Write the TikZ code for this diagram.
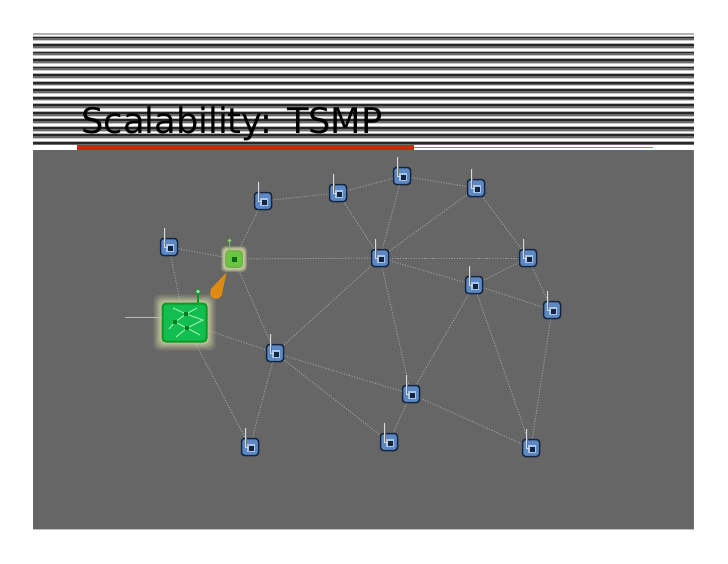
\documentclass[tikz,border=0pt]{standalone}
\usepackage{fontspec}
\setmainfont{DejaVu Sans}
\usetikzlibrary{backgrounds}
\definecolor{panelgray}{HTML}{666666}
\definecolor{nodeblue}{HTML}{5C88C4}
\definecolor{navy}{HTML}{14263F}
\definecolor{redbar}{HTML}{C9290F}
\definecolor{halo}{HTML}{C9CDA0}
\definecolor{routergreen}{HTML}{12BE50}
\definecolor{routeredge}{HTML}{0A9C22}
\definecolor{leafgreen}{HTML}{6CC443}
\definecolor{wedge}{HTML}{DF8A12}
\definecolor{netline}{HTML}{9AF0B0}
\definecolor{linkgray}{HTML}{9A9A9A}
\definecolor{paleblue}{HTML}{A9C4E6}
\definecolor{aerialgray}{HTML}{D4DAE2}
\tikzset{
  x=1pt,y=-1pt,
  bluebox/.style={draw=navy,line width=1.5pt,fill=nodeblue,rounded corners=3pt,minimum size=17pt,inner sep=0pt},
  greenbox/.style={draw=leafgreen!85!black,line width=.6pt,fill=leafgreen,rounded corners=3pt,minimum size=16.5pt,inner sep=0pt},
  routerbox/.style={draw=routeredge,line width=2pt,fill=routergreen,rounded corners=3.5pt,minimum width=44pt,minimum height=38pt,inner sep=0pt},
  link/.style={draw=linkgray,line width=1pt,dash pattern=on 1.2pt off 1.5pt},
  aerial/.style={draw=aerialgray,line width=1.1pt},
  netwire/.style={draw=netline,line width=.95pt},
}
\newcommand{\bluenode}[3]{%
  \node[bluebox] (#1) at (#2,#3) {};
  \fill[paleblue] ([shift={(-2.8,-2.8)}]#1.center) rectangle ([shift={(4.6,4.6)}]#1.center);
  \draw[line width=2pt,draw=black!55] ([shift={(-4.3,-19)}]#1.center) -- ([shift={(-4.3,.6)}]#1.center);
  \draw[aerial] ([shift={(-4.3,-19)}]#1.center) -- ([shift={(-4.3,.8)}]#1.center) -- ([shift={(1,.8)}]#1.center);
  \fill[navy] ([shift={(-1,-1)}]#1.center) rectangle ([shift={(3.6,3.6)}]#1.center);
}
\begin{document}
\begin{tikzpicture}
\useasboundingbox (0,0) rectangle (728,563);
% --- nodes
\bluenode{a}{263}{201}
\bluenode{b}{338}{193}
\bluenode{c}{402}{176}
\bluenode{d}{476}{188}
\bluenode{e}{169}{247}
\bluenode{f}{380}{258}
\bluenode{h}{528}{258}
\bluenode{i}{474}{285}
\bluenode{j}{552}{310}
\bluenode{k}{275}{353}
\bluenode{l}{411}{394}
\bluenode{m}{250}{447}
\bluenode{n}{389}{442}
\bluenode{o}{531}{448}
% green leaf
\foreach \s/\o in {26/.2,25/.2,24/.25,23/.3,22/.4,21/.5}
  \fill[halo,opacity=\o,rounded corners=4pt] (234-\s/2,259-\s/2) rectangle (234+\s/2,259+\s/2);
\node[greenbox] (g) at (234,259) {};
\draw[leafgreen,line width=1pt] (229.5,241) -- (229.5,259) -- (234,259);
\filldraw[draw=leafgreen,fill=white!40!leafgreen,line width=.6pt] (229.5,240.5) circle (1.6);
\fill[routeredge!70!black] (232,256.5) rectangle (237,261.5);
% router
\foreach \s/\o in {9/.08,8/.1,7/.12,6/.15,5/.18,4/.22,3/.3,2/.4}
  \fill[halo,opacity=\o,rounded corners=6pt] (184.5-22.5-\s,322.5-19.5-\s) rectangle (184.5+22.5+\s,322.5+19.5+\s);
\node[routerbox] (r) at (184.5,322.5) {};
\coordinate (rant) at (198,294);
\draw[routeredge,line width=1.2pt] (r.north -| rant) -- (rant);
\filldraw[draw=routeredge,fill=netline,line width=.8pt] (198,291.5) circle (2.2);
\draw[netwire] (173,308) -- (186,314) -- (175,322) -- (169,329);
\draw[netwire] (186,314) -- (197,308);
\draw[netwire] (186,314) -- (203,320) -- (187,328) -- (176,337);
\draw[netwire] (175,322) -- (187,328) -- (200,335);
\fill[routeredge!80!black] (184.3,312.3) rectangle (187.7,315.7);
\fill[routeredge!80!black] (173.3,320.3) rectangle (176.7,323.7);
\fill[routeredge!80!black] (185.3,326.3) rectangle (188.7,329.7);
\coordinate (wire) at (125,317);
\draw[white!55!panelgray,line width=1pt] (wire) -- (wire -| r.west);
% orange wedge
\fill[wedge] (226.5,272.5) -- (221.5,296) -- (210.5,289.5) -- cycle;
\fill[wedge] (216,293) circle (5.8);
% --- behind
\begin{pgfonlayer}{background}
\fill[white] (0,0) rectangle (728,563);
\fill[panelgray] (33,150) rectangle (694,529);
\draw[black!55,line width=1pt] (693.6,150) -- (693.6,529);
\draw[black!25,line width=.7pt] (33,529.4) -- (694,529.4);
\fill[black!30] (33,33.2) rectangle (694,34.6);
\foreach \i in {0,...,14}{
  \pgfmathsetmacro{\yy}{37.5+7.52*\i}
  \fill[black!30] (33,\yy-1.9) rectangle (694,\yy-.9);
  \fill[black!85] (33,\yy-.9) rectangle (694,\yy+.9);
  \fill[black!58] (33,\yy+.9) rectangle (694,\yy+2.8);
  \fill[black!22] (33,\yy+2.8) rectangle (694,\yy+3.5);
}
\fill[white] (33,144.6) rectangle (694,150);
\fill[redbar] (77,145.4) rectangle (414,150);
\fill[redbar!70!white] (414,146.6) rectangle (653,147.6);
\foreach \p/\q in {a/b,b/c,c/d,a/g,e/g,e/r,g/f,g/k,r/k,r/m,k/m,k/n,k/l,k/f,b/f,c/f,d/f,f/h,f/i,f/l,h/d,h/i,h/j,i/j,i/l,i/o,j/o,l/n,l/o}
  \draw[link] (\p) -- (\q);
\end{pgfonlayer}
\node[anchor=base west,inner sep=0pt,font=\fontsize{35.3}{40}\selectfont,text=black] (title) at (81,133) {Scalability: TSMP};
\end{tikzpicture}
\end{document}
